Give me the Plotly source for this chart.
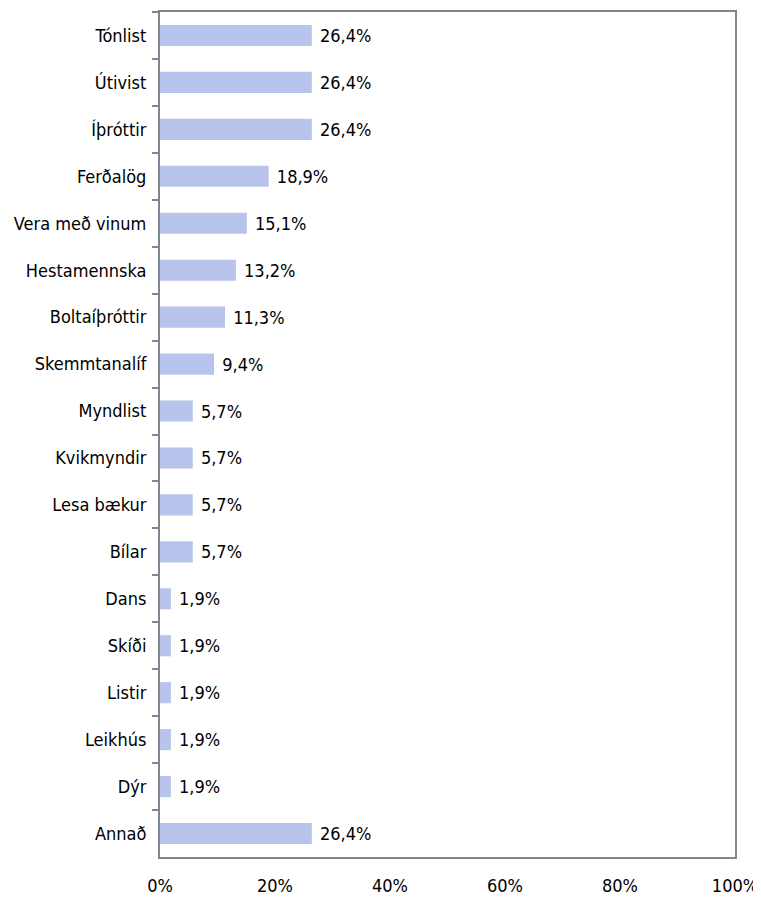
import plotly.graph_objects as go

categories = ["Tónlist", "Útivist", "Íþróttir", "Ferðalög", "Vera með vinum",
              "Hestamennska", "Boltaíþróttir", "Skemmtanalíf", "Myndlist",
              "Kvikmyndir", "Lesa bækur", "Bílar", "Dans", "Skíði", "Listir",
              "Leikhús", "Dýr", "Annað"]
values = [26.4, 26.4, 26.4, 18.9, 15.1, 13.2, 11.3, 9.4, 5.7, 5.7, 5.7, 5.7,
          1.9, 1.9, 1.9, 1.9, 1.9, 26.4]
tick_vals = [0, 20, 40, 60, 80, 100]
tick_text = ["0%", "20%", "40%", "60%", "80%", "100%"]

labels = [" " + f"{v:.1f}%".replace(".", ",") for v in values]

FONT = "Liberation Sans Narrow, Arial Narrow, DejaVu Sans Condensed, sans-serif"
FS = 18

fig = go.Figure(go.Bar(
    x=values, y=categories, orientation="h",
    marker=dict(color="#B8C4EC", line=dict(width=0)),
    text=labels, textposition="outside", cliponaxis=False,
    constraintext="none",
    textfont=dict(family=FONT, size=FS, color="#000000"),
))

fig.update_layout(
    width=753, height=890,
    margin=dict(l=152, r=26, t=4, b=41),
    paper_bgcolor="white", plot_bgcolor="white",
    bargap=0.55, showlegend=False,
    font=dict(family=FONT, size=FS, color="#000000"),
    xaxis=dict(range=[0, 100], tickvals=tick_vals, ticktext=tick_text,
               showgrid=False, zeroline=False, showline=True, mirror=True,
               linecolor="#808590", linewidth=2, ticks="",
               ticklabelstandoff=11, ticklabeloverflow="allow",
               automargin=False, fixedrange=True),
    yaxis=dict(autorange="reversed", showgrid=False, zeroline=False,
               showline=True, mirror=True, linecolor="#808590", linewidth=2,
               ticks="outside", tickson="boundaries", ticklen=6,
               tickcolor="#808590", tickwidth=2, ticklabelstandoff=8,
               automargin=False, fixedrange=True),
)

fig.write_html("out.html")
